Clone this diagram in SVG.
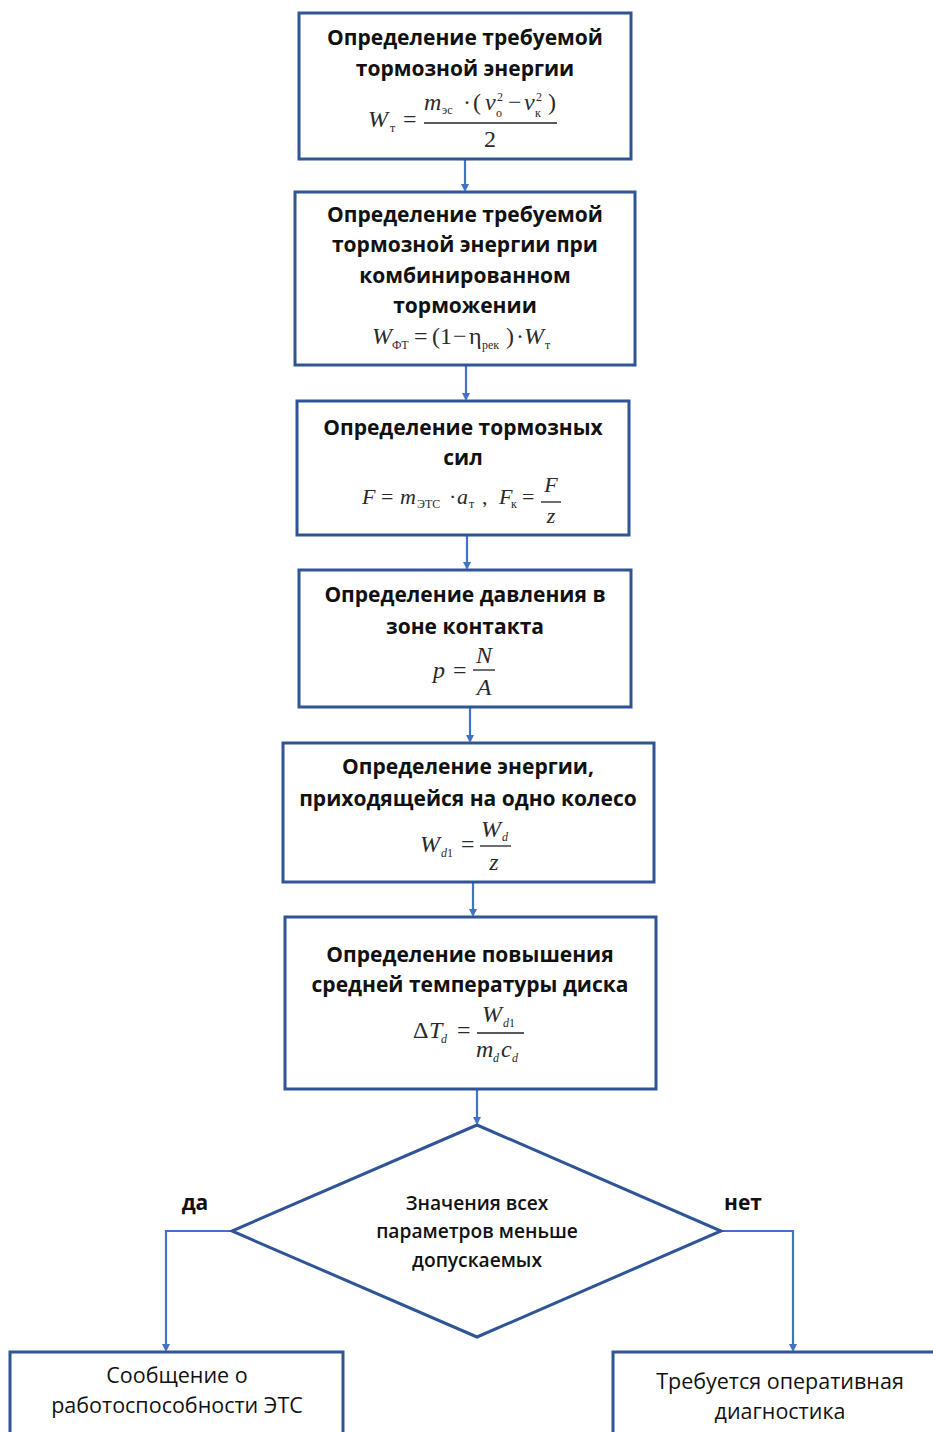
<svg xmlns="http://www.w3.org/2000/svg" width="933" height="1432" viewBox="0 0 933 1432">
<style>
.box{fill:#fff;stroke:#2F5597;stroke-width:3}
.t{font-family:"Open Sans","Liberation Sans",sans-serif;font-weight:bold;font-size:21px;fill:#111;text-anchor:middle}
.d{font-family:"Open Sans","Liberation Sans",sans-serif;font-weight:600;font-size:19.2px;fill:#111;text-anchor:middle}
.b{font-family:"Open Sans","Liberation Sans",sans-serif;font-size:21.5px;fill:#111;text-anchor:middle}
.f{font-family:"Liberation Serif","Times New Roman",serif;font-size:24px;fill:#2a2a2a}
.fi{font-style:italic}
.s{font-size:12px}
.fl{stroke:#222;stroke-width:1.3}
.c{fill:none;stroke:#4472C4;stroke-width:2.2}
</style>
<defs>
<marker id="ah" markerWidth="8" markerHeight="8" refX="6" refY="4" orient="auto" markerUnits="userSpaceOnUse">
<path d="M0,0 L8,4 L0,8 z" fill="#4472C4"/>
</marker>
</defs>
<g id="connectors">
<path class="c" d="M465,160 V190" marker-end="url(#ah)"/>
<path class="c" d="M466,366 V399" marker-end="url(#ah)"/>
<path class="c" d="M467,536 V568" marker-end="url(#ah)"/>
<path class="c" d="M470,708 V741" marker-end="url(#ah)"/>
<path class="c" d="M473,883 V915" marker-end="url(#ah)"/>
<path class="c" d="M477,1090 V1123" marker-end="url(#ah)"/>
<path class="c" d="M232,1231 H166 V1350" marker-end="url(#ah)"/>
<path class="c" d="M721,1231 H793 V1350" marker-end="url(#ah)"/>
</g>
<g id="n1">
<rect class="box" x="299" y="13" width="332" height="146"/>
<text class="t" x="465" y="45">Определение требуемой</text>
<text class="t" x="465" y="76">тормозной энергии</text>
<text class="f"><tspan class="fi" x="368" y="127">W</tspan><tspan class="s" x="390" y="132">т</tspan><tspan x="403" y="127">=</tspan></text>
<text class="f"><tspan class="fi" x="424" y="110">m</tspan><tspan class="s" x="442" y="114">эс</tspan><tspan x="463" y="110">·</tspan><tspan x="473" y="110">(</tspan><tspan class="fi" x="485" y="110">v</tspan><tspan class="s" x="497" y="101">2</tspan><tspan class="s" x="496" y="117">о</tspan><tspan x="508" y="110">−</tspan><tspan class="fi" x="524" y="110">v</tspan><tspan class="s" x="536" y="101">2</tspan><tspan class="s" x="535" y="117">к</tspan><tspan x="548" y="110">)</tspan></text>
<line class="fl" x1="424" y1="123" x2="557" y2="123"/>
<text class="f" x="490" y="147" text-anchor="middle">2</text>
</g>
<g id="n2">
<rect class="box" x="295" y="192" width="340" height="173"/>
<text class="t" x="465" y="222">Определение требуемой</text>
<text class="t" x="465" y="252">тормозной энергии при</text>
<text class="t" x="465" y="283">комбинированном</text>
<text class="t" x="465" y="313">торможении</text>
<text class="f"><tspan class="fi" x="372" y="344">W</tspan><tspan class="s" x="392" y="349">ФТ</tspan><tspan x="414" y="344">=</tspan><tspan x="432" y="344">(1</tspan><tspan x="453" y="344">−</tspan><tspan x="469" y="344">η</tspan><tspan class="s" x="482" y="349">рек</tspan><tspan x="506" y="344">)</tspan><tspan x="516" y="344">·</tspan><tspan class="fi" x="524" y="344">W</tspan><tspan class="s" x="545" y="349">т</tspan></text>
</g>
<g id="n3">
<rect class="box" x="297" y="401" width="332" height="134"/>
<text class="t" x="463" y="435">Определение тормозных</text>
<text class="t" x="463" y="465">сил</text>
<text class="f" style="font-size:22px"><tspan class="fi" x="362" y="504">F</tspan><tspan x="381" y="504">=</tspan><tspan class="fi" x="400" y="504">m</tspan><tspan class="s" x="417" y="508">ЭТС</tspan><tspan x="449" y="504">·</tspan><tspan class="fi" x="457" y="504">a</tspan><tspan class="s" x="469" y="508">т</tspan><tspan x="482" y="504">,</tspan><tspan class="fi" x="499" y="504">F</tspan><tspan class="s" x="511" y="508">к</tspan><tspan x="522" y="504">=</tspan></text>
<text class="f fi" x="551" y="492" text-anchor="middle" style="font-size:22px">F</text>
<line class="fl" x1="541" y1="502" x2="561" y2="502"/>
<text class="f fi" x="551" y="523" text-anchor="middle" style="font-size:22px">z</text>
</g>
<g id="n4">
<rect class="box" x="299" y="570" width="332" height="137"/>
<text class="t" x="465" y="602">Определение давления в</text>
<text class="t" x="465" y="634">зоне контакта</text>
<text class="f"><tspan class="fi" x="433" y="678">p</tspan><tspan x="453" y="678">=</tspan></text>
<text class="f fi" x="484" y="663" text-anchor="middle">N</text>
<line class="fl" x1="473" y1="670" x2="495" y2="670"/>
<text class="f fi" x="484" y="695" text-anchor="middle">A</text>
</g>
<g id="n5">
<rect class="box" x="283" y="743" width="371" height="139"/>
<text class="t" x="468" y="774">Определение энергии,</text>
<text class="t" x="468" y="806">приходящейся на одно колесо</text>
<text class="f"><tspan class="fi" x="420" y="852">W</tspan><tspan class="s fi" x="441" y="857">d</tspan><tspan class="s" x="447" y="857">1</tspan><tspan x="461" y="852">=</tspan></text>
<text class="f"><tspan class="fi" x="481" y="837">W</tspan><tspan class="s fi" x="502" y="841">d</tspan></text>
<line class="fl" x1="480" y1="846" x2="511" y2="846"/>
<text class="f fi" x="494" y="870" text-anchor="middle">z</text>
</g>
<g id="n6">
<rect class="box" x="285" y="917" width="371" height="172"/>
<text class="t" x="470" y="962">Определение повышения</text>
<text class="t" x="470" y="992">средней температуры диска</text>
<text class="f"><tspan x="413" y="1038">Δ</tspan><tspan class="fi" x="429" y="1038">T</tspan><tspan class="s fi" x="441" y="1043">d</tspan><tspan x="457" y="1038">=</tspan></text>
<text class="f"><tspan class="fi" x="482" y="1022">W</tspan><tspan class="s fi" x="503" y="1027">d</tspan><tspan class="s" x="509" y="1027">1</tspan></text>
<line class="fl" x1="477" y1="1033" x2="524" y2="1033"/>
<text class="f"><tspan class="fi" x="476" y="1057">m</tspan><tspan class="s fi" x="493" y="1062">d</tspan><tspan class="fi" x="501" y="1057">c</tspan><tspan class="s fi" x="512" y="1062">d</tspan></text>
</g>
<g id="n7">
<polygon class="box" points="477,1125 721,1231 477,1337 232,1231"/>
<text class="d" x="477" y="1210">Значения всех</text>
<text class="d" x="477" y="1238">параметров меньше</text>
<text class="d" x="477" y="1267">допускаемых</text>
</g>
<text class="t" x="195" y="1210">да</text>
<text class="t" x="743" y="1210">нет</text>
<g id="n8">
<rect class="box" x="10" y="1352" width="333" height="100"/>
<text class="b" x="177" y="1383">Сообщение о</text>
<text class="b" x="177" y="1413">работоспособности ЭТС</text>
</g>
<g id="n9">
<rect class="box" x="613" y="1352" width="340" height="100"/>
<text class="b" x="780" y="1389">Требуется оперативная</text>
<text class="b" x="780" y="1419">диагностика</text>
</g>
</svg>
